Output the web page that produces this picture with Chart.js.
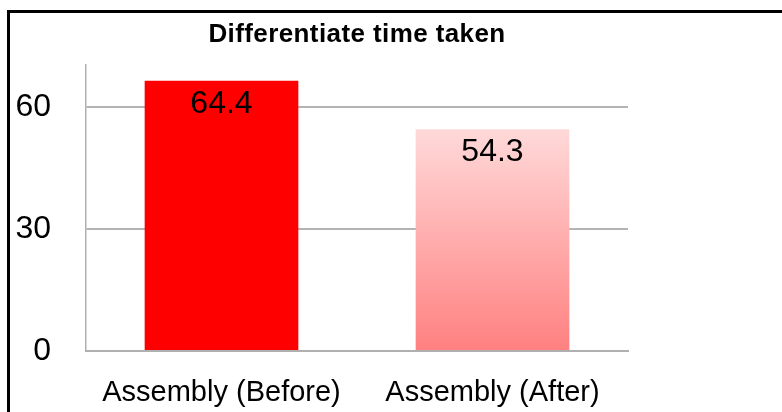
<!DOCTYPE html>
<html>
<head>
<meta charset="utf-8">
<script src="https://cdn.jsdelivr.net/npm/chart.js@4/dist/chart.umd.min.js"></script>
<style>
html,body{margin:0;padding:0;background:#fff;width:782px;height:412px;overflow:hidden;}
#frame{position:absolute;left:7px;top:10px;width:800px;height:450px;border-left:3px solid #000;border-top:3px solid #000;}
#chart{position:absolute;left:10px;top:0;}
</style>
</head>
<body>
<div id="frame"></div>
<canvas id="chart" width="694" height="412"></canvas>
<script>
const titleText="Differentiate time taken";
const categories=["Assembly (Before)","Assembly (After)"];
const barValues=[66.5,54.6];
const valueLabels=["64.4","54.3"];
const yTicks=[0,30,60];
const yMax=70.4;

const FONT="'Liberation Sans', Arial, sans-serif";

// bar 2 fades from light pink at the top to a deeper pink at the base
function barColor(c){
  if(c.dataIndex===0) return "#ff0000";
  const chart=c.chart;
  if(!chart.chartArea) return "#ffaaaa";
  const y=chart.scales.y;
  const g=chart.ctx.createLinearGradient(0,y.getPixelForValue(barValues[1]),0,y.getPixelForValue(0));
  g.addColorStop(0,"#ffd9d9");
  g.addColorStop(1,"#ff8080");
  return g;
}

// title centred over the plot area, value labels inside the bar tops
const labelsPlugin={
  id:"labels",
  afterDatasetsDraw(chart){
    const ctx=chart.ctx;
    const area=chart.chartArea;
    ctx.save();
    ctx.fillStyle="#000";
    ctx.textAlign="center";
    ctx.textBaseline="middle";
    ctx.font="bold 26px "+FONT;
    ctx.letterSpacing="0.4px";
    ctx.fillText(titleText,(area.left+area.right)/2,35);
    ctx.letterSpacing="0px";
    ctx.font="32px "+FONT;
    chart.getDatasetMeta(0).data.forEach((bar,i)=>{
      ctx.fillText(valueLabels[i],bar.x,bar.y+23);
    });
    ctx.restore();
  }
};

new Chart(document.getElementById("chart").getContext("2d"),{
  type:"bar",
  data:{
    labels:categories,
    datasets:[{
      data:barValues,
      backgroundColor:barColor,
      borderWidth:0,
      barPercentage:0.567,
      categoryPercentage:1
    }]
  },
  options:{
    responsive:false,
    animation:false,
    layout:{padding:{left:6,right:76,top:65,bottom:2}},
    plugins:{
      legend:{display:false},
      tooltip:{enabled:false},
      title:{display:false}
    },
    scales:{
      x:{
        grid:{display:false,drawTicks:false},
        border:{display:true,color:"#b0b0b0",width:2},
        ticks:{color:"#000",padding:25,maxRotation:0,autoSkip:false,font:{family:FONT,size:29}},
        afterFit:s=>{s.height=59;s.paddingLeft=0;s.paddingRight=0;}
      },
      y:{
        min:0,
        max:yMax,
        afterBuildTicks:s=>{s.ticks=yTicks.map(v=>({value:v}));},
        grid:{color:"#b4b4b4",lineWidth:2,drawTicks:false},
        border:{display:true,color:"#b0b0b0",width:1.5},
        ticks:{color:"#000",padding:35,font:{family:FONT,size:32}},
        afterFit:s=>{s.width=70;s.paddingTop=0;s.paddingBottom=0;}
      }
    }
  },
  plugins:[labelsPlugin]
});
</script>
</body>
</html>
